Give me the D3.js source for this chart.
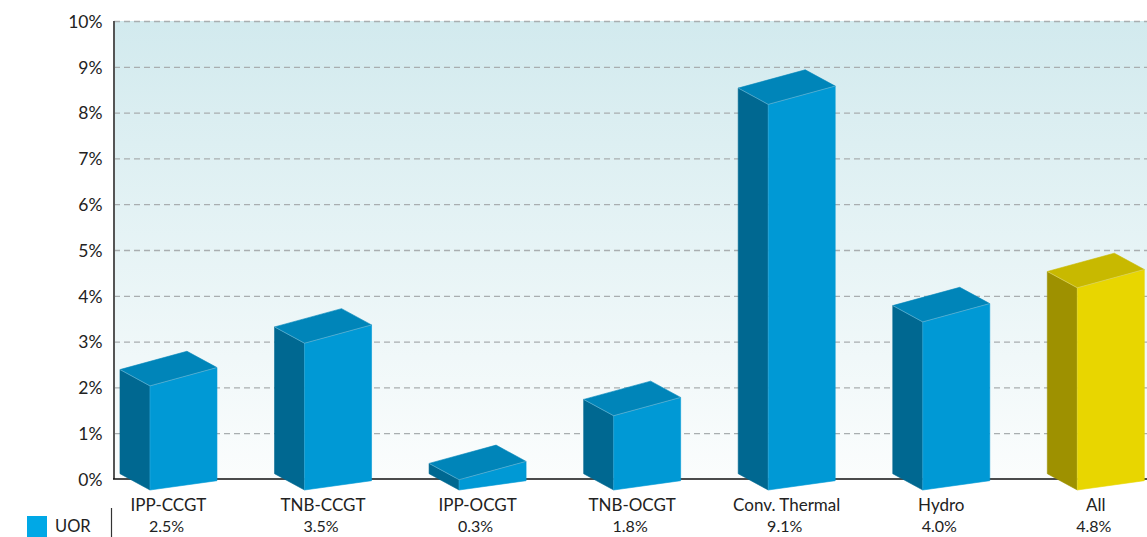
<!DOCTYPE html>
<html>
<head>
<meta charset="utf-8">
<script src="https://cdn.jsdelivr.net/npm/d3@7"></script>
<style>
  html, body { margin: 0; padding: 0; background: #ffffff; overflow: hidden; }
  svg { display: block; font-family: Lato, "Open Sans", sans-serif; }
</style>
</head>
<body>
<svg id="chart" width="1147" height="537"></svg>
<script>
// ---- data ----
const categories = ["IPP-CCGT", "TNB-CCGT", "IPP-OCGT", "TNB-OCGT", "Conv. Thermal", "Hydro", "All"];
const uorValues = [2.5, 3.5, 0.3, 1.8, 9.1, 4.0, 4.8];
const valueLabels = ["2.5%", "3.5%", "0.3%", "1.8%", "9.1%", "4.0%", "4.8%"];
const highlight = ["All"];
const yTicks = [0, 1, 2, 3, 4, 5, 6, 7, 8, 9, 10];
const seriesName = "UOR";

// ---- layout ----
const plot = { left: 114, right: 1147, top: 21, bottom: 479 };
const svg = d3.select("#chart");

const y = d3.scaleLinear().domain([0, 10]).range([plot.bottom, plot.top]);
const x = d3.scaleBand().domain(categories).range([91.2, 1173.1]).paddingInner(0).paddingOuter(0);
// projected bar height (3D perspective shortens bars slightly relative to the wall grid)
const h = d3.scaleLinear().domain([0, 10]).range([-2.5, 424]);

const defs = svg.append("defs");
const grad = defs.append("linearGradient").attr("id", "bg").attr("x1", 0).attr("y1", 0).attr("x2", 0).attr("y2", 1);
grad.append("stop").attr("offset", "0%").attr("stop-color", "#d2eaee");
grad.append("stop").attr("offset", "100%").attr("stop-color", "#fbfdfd");

svg.append("rect")
  .attr("x", plot.left).attr("y", plot.top)
  .attr("width", plot.right - plot.left).attr("height", plot.bottom - plot.top)
  .attr("fill", "url(#bg)");

// gridlines + tick labels
const yAxis = d3.axisLeft(y).tickValues(yTicks).tickFormat(d => d + "%")
  .tickSize(-(plot.right - plot.left) - 8).tickPadding(4);
const gAxis = svg.append("g").attr("transform", `translate(${plot.left + 8},0)`).call(yAxis);
gAxis.select(".domain").remove();
gAxis.selectAll(".tick line")
  .attr("x1", -8)
  .attr("x2", plot.right - plot.left)
  .attr("stroke", "#a9aeb0").attr("stroke-width", 1.3).attr("stroke-dasharray", "6,4");
gAxis.selectAll(".tick text")
  .attr("x", -19.5)
  .attr("dy", "0.36em")
  .attr("fill", "#222").attr("font-size", "17.5px").style("font-family", "Lato, sans-serif");
gAxis.selectAll(".tick").filter(d => d === 0).select("line").remove();

// axis lines
svg.append("line").attr("x1", plot.left).attr("x2", plot.left).attr("y1", plot.top).attr("y2", plot.bottom)
  .attr("stroke", "#555").attr("stroke-width", 2);
svg.append("line").attr("x1", plot.left - 1).attr("x2", plot.right).attr("y1", plot.bottom).attr("y2", plot.bottom)
  .attr("stroke", "#111").attr("stroke-width", 1.5);

// ---- 3D bars ----
const FW = 67, DX = 30, DY = 16.3, TOPSKEW = 18.3, BOTSKEW = 9.3, BASE_Y = 490, CENTER_OFF = 18.5;
const palette = {
  normal: { front: "#0099d5", side: "#006891", top: "#0085b9" },
  hi: { front: "#e8d600", side: "#9e9100", top: "#c8b900" }
};

const bars = svg.append("g");
const line = d3.line();
categories.forEach((c, i) => {
  const v = uorValues[i];
  const col = highlight.includes(c) ? palette.hi : palette.normal;
  const xl = x(c) + x.bandwidth() / 2 - CENTER_OFF;
  const yb = BASE_Y;
  const yt = yb - h(v);
  const xr = xl + FW;
  const side = [[xl - DX, yb - DY], [xl, yb], [xl, yt], [xl - DX, yt - DY]];
  const front = [[xl, yb], [xr, yb - BOTSKEW], [xr, yt - TOPSKEW], [xl, yt]];
  const top = [[xl, yt], [xr, yt - TOPSKEW], [xr - DX, yt - TOPSKEW - DY], [xl - DX, yt - DY]];
  const g = bars.append("g");
  g.append("path").attr("d", line(side) + "Z").attr("fill", col.side)
    .attr("stroke", col.side).attr("stroke-width", 0.6);
  g.append("path").attr("d", line(front) + "Z").attr("fill", col.front)
    .attr("stroke", col.front).attr("stroke-width", 0.6);
  g.append("path").attr("d", line(top) + "Z").attr("fill", col.top)
    .attr("stroke", col.top).attr("stroke-width", 0.6);
  g.append("path").attr("d", line([[xl - DX, yt - DY], [xl, yt], [xr, yt - TOPSKEW]]))
    .attr("fill", "none").attr("stroke", "rgba(255,255,255,0.35)").attr("stroke-width", 0.8);
  g.append("path").attr("d", line([[xl, yt], [xl, yb]]))
    .attr("fill", "none").attr("stroke", "rgba(255,255,255,0.15)").attr("stroke-width", 0.8);
});

// ---- category labels & values ----
const labels = svg.append("g").style("font-family", "Lato, sans-serif").attr("fill", "#222");
categories.forEach((c, i) => {
  const cx = x(c) + x.bandwidth() / 2;
  labels.append("text").attr("x", cx).attr("y", 511).attr("text-anchor", "middle")
    .attr("font-size", "17px").text(c);
  labels.append("text").attr("x", cx - 2).attr("y", 532).attr("text-anchor", "middle")
    .attr("font-size", "16px").text(valueLabels[i]);
});

// ---- legend ----
svg.append("rect").attr("x", 27).attr("y", 516).attr("width", 20).attr("height", 21).attr("fill", "#00a8e6");
svg.append("text").attr("x", 55).attr("y", 532).attr("font-size", "16.5px").attr("fill", "#222")
  .style("font-family", "Lato, sans-serif").text(seriesName);
svg.append("line").attr("x1", 111.5).attr("x2", 111.5).attr("y1", 508).attr("y2", 537)
  .attr("stroke", "#333").attr("stroke-width", 1.2);
</script>
</body>
</html>
